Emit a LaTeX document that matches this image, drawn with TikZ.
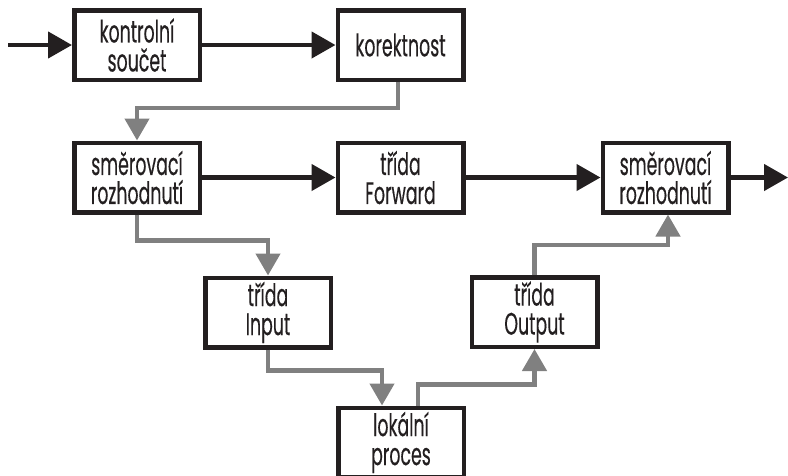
\documentclass[tikz,border=0pt]{standalone}
\usepackage{fontspec}
\setmainfont[FakeStretch=0.56,FakeBold=0.3]{Poppins}
\usetikzlibrary{arrows.meta}
\definecolor{inkblack}{RGB}{35,31,32}
\definecolor{flowgray}{RGB}{128,128,128}
\tikzset{
  blockbox/.style={draw=inkblack, line width=4.5pt, fill=white,
    minimum width=125.5pt, minimum height=69.5pt, inner sep=0pt,
    align=center, font=\fontsize{31}{29}\selectfont, text=inkblack},
  blackflow/.style={draw=inkblack, line width=4.5pt,
    -{Triangle[length=24pt,width=26pt]}},
  grayflow/.style={draw=flowgray, line width=4.5pt,
    -{Triangle[length=22pt,width=24pt]}}
}
\begin{document}
\begin{tikzpicture}[x=1pt,y=-1pt]
\useasboundingbox (0,0) rectangle (788,475);
\clip (0,0) rectangle (788,475);
\node[blockbox] (b1) at (137,45) {kontrolní\\součet};
\node[blockbox] (b2) at (400.5,45) {korektnost};
\node[blockbox] (b3) at (137,177.5) {směrovací\\rozhodnutí};
\node[blockbox] (b4) at (400.5,177.5) {třída\\Forward};
\node[blockbox] (b6) at (665.5,177.5) {směrovací\\rozhodnutí};
\node[blockbox] (bin) at (268,312.5) {třída\\Input};
\node[blockbox] (bout) at (534.5,312) {třída\\Output};
\node[blockbox] (blp) at (401,442.5) {lokální\\proces};
\coordinate (inp) at (8,45);
\coordinate (outp) at (788,177.5);
% black flow
\draw[blackflow] (inp) -- (b1);
\draw[blackflow] (b1) -- (b2);
\draw[blackflow] (b3) -- (b4);
\draw[blackflow] (b4) -- (b6);
\draw[blackflow] (b6) -- (outp);
% gray flow
\draw[grayflow] ([xshift=-2.5pt]b2.south) -- ++(0,26) -| (b3.north);
\draw[grayflow] (b3.south) -- ++(0,26) -| (bin.north);
\draw[grayflow] (bin.south) -- ++(0,21) -| ([xshift=-19pt]blp.north);
\draw[grayflow] ([xshift=17pt]blp.north) -- ++(0,-21) -| (bout.south);
\draw[grayflow] (bout.north) -- ++(0,-30) -| ([xshift=2.5pt]b6.south);
\end{tikzpicture}
\end{document}
